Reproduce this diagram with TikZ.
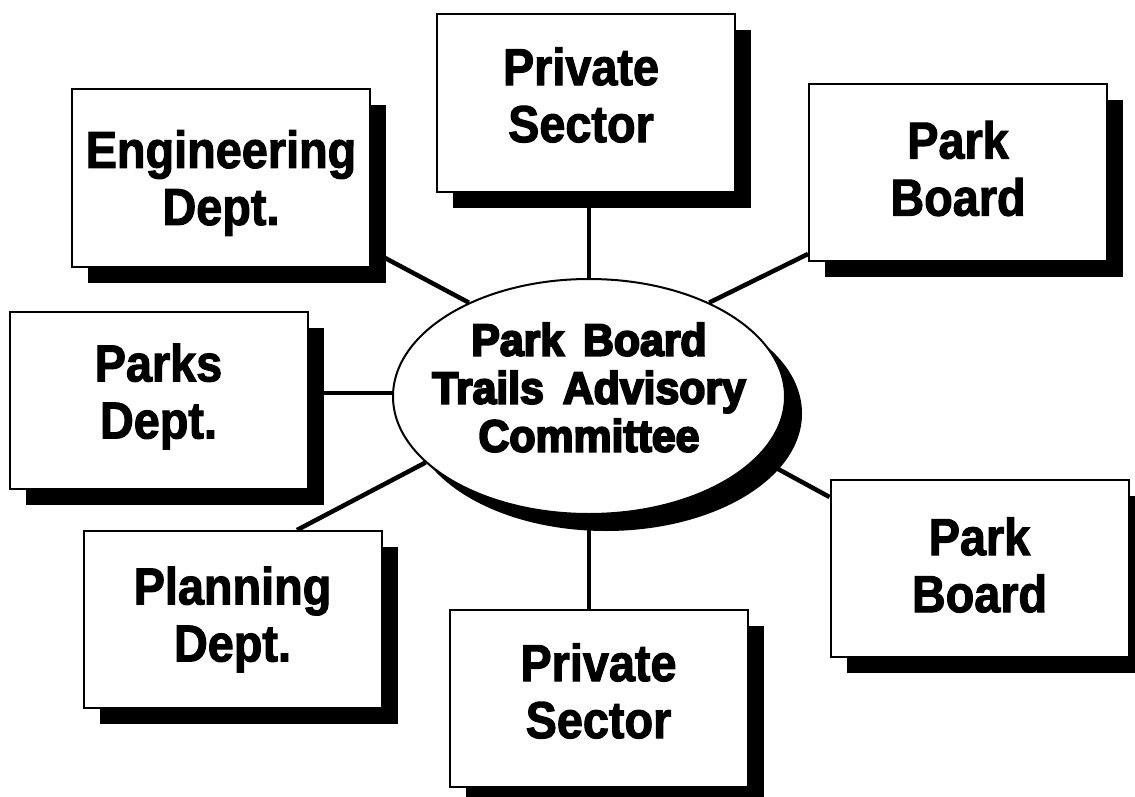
\documentclass[tikz,border=0pt]{standalone}
\usepackage{fontspec}
\setmainfont{Liberation Sans}
\newfontfamily\boxfont{Liberation Sans Bold}[FakeStretch=0.9, FakeBold=2]
\newfontfamily\heavyfont{Liberation Sans Bold}[FakeStretch=0.95, FakeBold=4.5, WordSpace=1.6]
\usetikzlibrary{shadows,shapes.geometric}
\pgfdeclarelayer{background}
\pgfsetlayers{background,main}
\tikzset{
 unitbox/.style={draw=black, line width=2pt, fill=white, minimum width=298pt,
   minimum height=177pt, inner sep=0pt,
   drop shadow={shadow xshift=16pt, shadow yshift=-16pt, fill=black, opacity=1}},
 boxtext/.style={align=center, inner sep=0pt, font=\fontsize{52}{57}\boxfont},
 hub/.style={ellipse, draw=black, line width=2pt, fill=white, minimum width=392pt,
   minimum height=235pt, inner sep=0pt,
   drop shadow={shadow xshift=17pt, shadow yshift=-17pt, fill=black, opacity=1}},
 hubtext/.style={align=center, inner sep=0pt, font=\fontsize{45}{48}\heavyfont},
 link/.style={line width=4.5pt, draw=black}
}
\begin{document}
\begin{tikzpicture}[x=1pt,y=-1pt]
\useasboundingbox (0,0) rectangle (1135,797);
\node[unitbox, label={[boxtext, yshift=8pt, xshift=-5pt]center:{Private\\Sector}}] (pst) at (586,103) {};
\node[unitbox, label={[boxtext, yshift=-5pt]center:{Engineering\\Dept.}}] (eng) at (221,178) {};
\node[unitbox, label={[boxtext, yshift=4pt]center:{Park\\Board}}] (pbt) at (958,172.5) {};
\node[unitbox, label={[boxtext, yshift=3.5pt]center:{Parks\\Dept.}}] (pks) at (158.5,400) {};
\node[unitbox, label={[boxtext]center:{Planning\\Dept.}}] (pln) at (232.5,619.5) {};
\node[unitbox, label={[boxtext, yshift=7.5pt]center:{Private\\Sector}}] (psb) at (598.5,698.5) {};
\node[unitbox, label={[boxtext, yshift=3.5pt]center:{Park\\Board}}] (pbb) at (979.5,568.5) {};
\node[hub, label={[hubtext, yshift=9pt]center:{Park Board\\Trails Advisory\\Committee}}] (ell) at (589,396.5) {};
\begin{pgfonlayer}{background}
\draw[link] (ell.north) -- (ell.north |- pst.south);
\draw[link] (ell.south) -- (ell.south |- psb.north);
\draw[link] (ell.179) -- (ell.179 -| pks.east);
\draw[link] ([yshift=17pt]eng.south east) -- (ell.142);
\draw[link] ([yshift=8pt]pbt.south west) -- (ell.38);
\draw[link] ([xshift=64.5pt]pln.north) -- (ell.202);
\draw[link] ([yshift=-18pt]pbb.north west) -- (ell.340);
\end{pgfonlayer}
\end{tikzpicture}
\end{document}
